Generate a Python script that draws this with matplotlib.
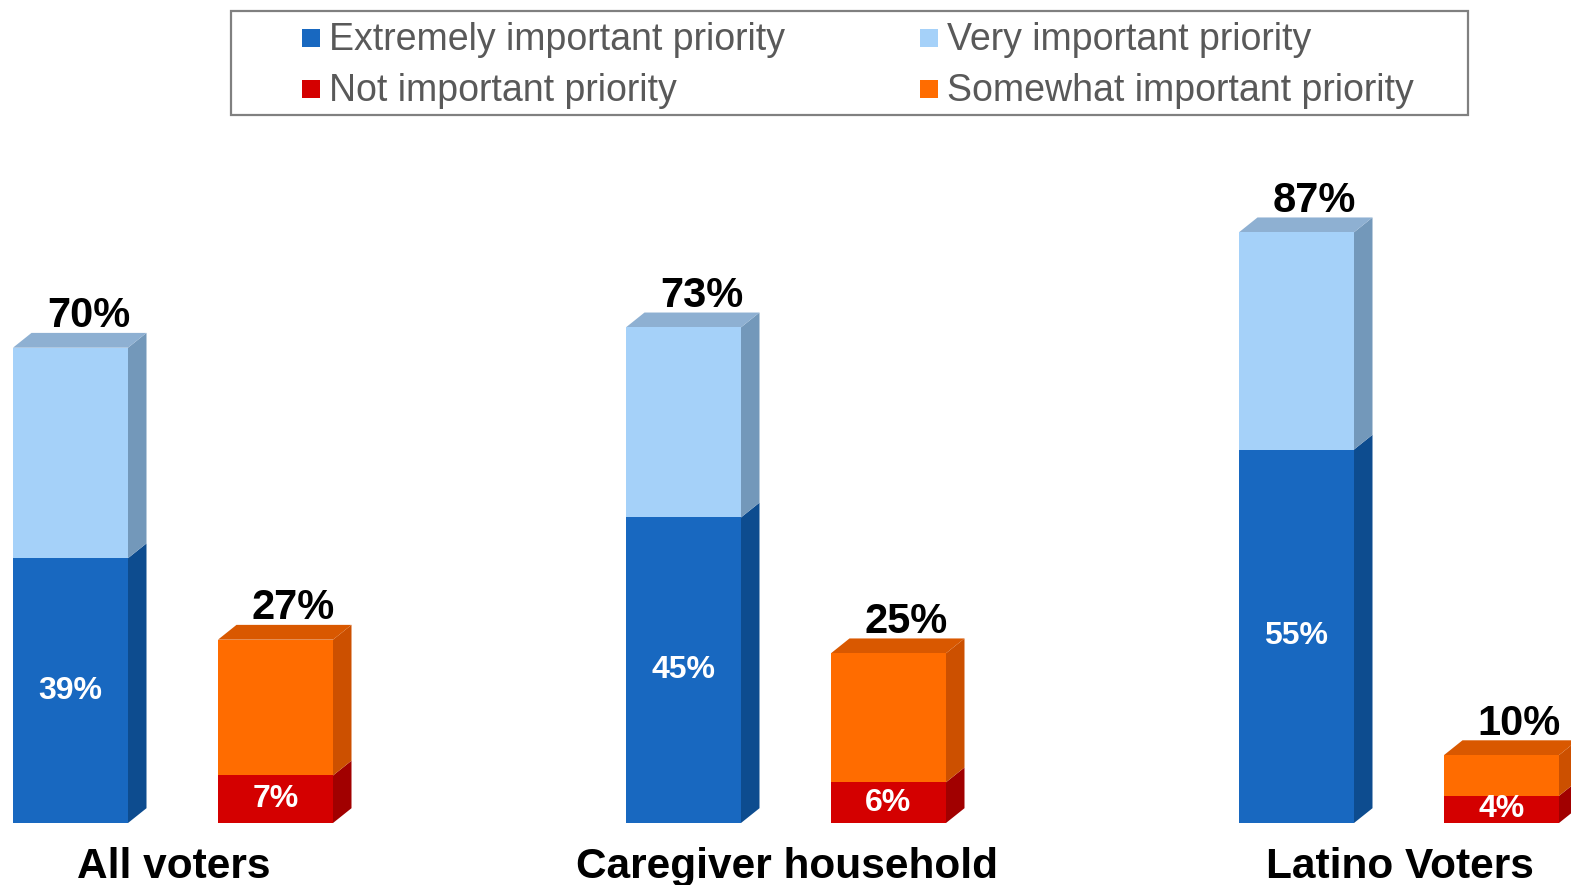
import matplotlib.pyplot as plt
from matplotlib.patches import Polygon, Rectangle

plt.rcParams['font.family'] = ['Liberation Sans', 'DejaVu Sans']

categories = ["All voters", "Caregiver household", "Latino Voters"]
extremely = [39, 45, 55]
very = [31, 28, 32]
not_important = [7, 6, 4]
somewhat = [20, 19, 6]

legend_labels = ["Extremely important priority", "Very important priority",
                 "Not important priority", "Somewhat important priority"]

# face colours: (front, side, top)
c_ext = ("#1868c0", "#0d4c8f", "#1459a6")
c_very = ("#a5d1f9", "#7398ba", "#8eb0d2")
c_not = ("#d40000", "#a10000", "#b80000")
c_some = ("#ff6c00", "#cc5000", "#d95800")

W, H = 1571, 885
fig = plt.figure(figsize=(W / 100, H / 100), dpi=100)
ax = fig.add_axes([0, 0, 1, 1])
ax.set_xlim(-182 / 613, (W - 182) / 613)
ax.set_ylim(-62 / 6.79, (H - 62) / 6.79)
ax.axis('off')

bw = 115 / 613       # front face width
dx = 18.5 / 613      # depth offset, x
dy = 14.8 / 6.79     # depth offset, y (in %)
off_hi = -111.5 / 613
off_lo = 93.5 / 613


def box(xc, bottom, height, col, top_face):
    xl, xr = xc - bw / 2, xc + bw / 2
    t = bottom + height
    ax.bar(xc, height, bw, bottom=bottom, color=col[0], linewidth=0, zorder=3)
    ax.add_patch(Polygon([(xr, bottom), (xr + dx, bottom + dy), (xr + dx, t + dy), (xr, t)],
                         closed=True, facecolor=col[1], linewidth=0, zorder=2))
    if top_face:
        ax.add_patch(Polygon([(xl, t), (xl + dx, t + dy), (xr + dx, t + dy), (xr, t)],
                             closed=True, facecolor=col[2], linewidth=0, zorder=2))


def stack(xc, low, high, col_low, col_high):
    box(xc, 0, low, col_low, False)
    box(xc, low, high, col_high, True)
    total = low + high
    ax.text(xc, low / 2, f"{low}%", color="white", fontsize=23, fontweight="bold",
            ha="center", va="center", zorder=5)
    ax.text(xc + 18 / 613, total + dy + 0.8, f"{total}%", color="black", fontsize=30,
            fontweight="bold", ha="center", va="baseline", zorder=5)


for i, cat in enumerate(categories):
    stack(i + off_hi, extremely[i], very[i], c_ext, c_very)
    stack(i + off_lo, not_important[i], somewhat[i], c_not, c_some)
    ax.text(i - 0.013, -8.1, cat, fontsize=30.5, fontweight="bold", ha="center", va="baseline")

# legend box drawn in figure pixels
def fx(px):
    return px / W


def fy(py):
    return 1 - py / H


fig.patches.append(Rectangle((fx(231), fy(115)), fx(1468) - fx(231), fy(11) - fy(115),
                             transform=fig.transFigure, fill=False, edgecolor="#808080",
                             linewidth=1.6))
leg_pos = [(302, 38), (920, 38), (302, 89), (920, 89)]
leg_cols = [c_ext[0], c_very[0], c_not[0], c_some[0]]
for (lx, ly), lab, col in zip(leg_pos, legend_labels, leg_cols):
    fig.patches.append(Rectangle((fx(lx), fy(ly + 9)), fx(18), 18 / H,
                                 transform=fig.transFigure, facecolor=col, linewidth=0))
    fig.text(fx(lx + 27), fy(ly + 2), lab, fontsize=27, color="#595959", ha="left", va="center")

fig.savefig("out.png", dpi=100)
